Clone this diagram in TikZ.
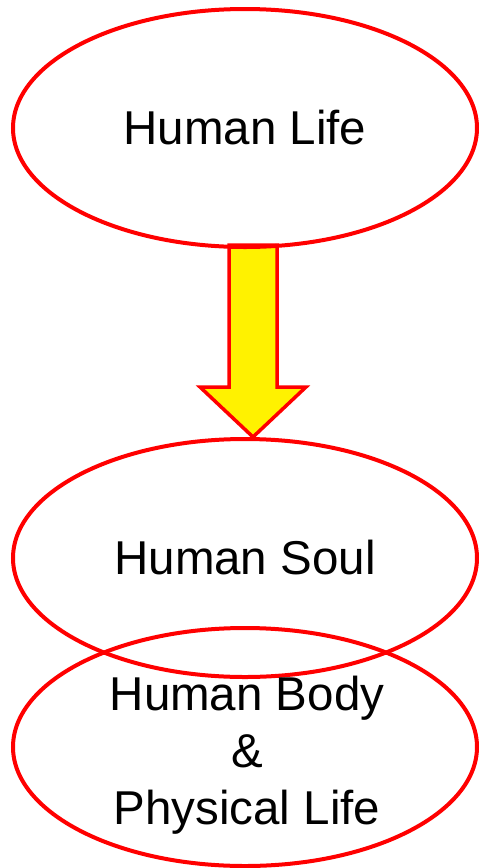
\documentclass[tikz,border=0pt]{standalone}
\usepackage{fontspec}
\setmainfont{Liberation Sans}
\usetikzlibrary{shapes.geometric, calc, backgrounds}

\begin{document}
\begin{tikzpicture}[
      x=1pt, y=-1pt,
      bubble/.style = {
        ellipse, draw=red, line width=4pt,
        minimum width=464pt, minimum height=238pt, inner sep=0pt,
        font=\fontsize{47.5}{58}\selectfont, text=black, align=center
      },
      words/.style = {
        inner sep=0pt, font=\fontsize{47.5}{57}\selectfont, text=black, align=center
      },
      blockarrow/.style = {
        draw=red, fill=yellow, line width=3.5pt, line join=miter
      }
    ]

    \useasboundingbox (0,0) rectangle (479,868);

    \node[bubble] (life) at (245,128) {Human Life};
    \node[bubble] (soul) at (245,558) {Human Soul};
    \node[bubble] (body) at (245,747) {};
    \node[words] (bodytext) at ($(body)+(2,8)$) {Human Body\\\&\\Physical Life};

    \coordinate (tip) at (253,437);
    \begin{scope}[on background layer]
      \draw[blockarrow]
        ($(tip |- life.south)+(-24,-4)$) -- ($(tip)+(-24,-50)$) -- ($(tip)+(-53,-50)$)
        -- (tip) -- ($(tip)+(53,-50)$) -- ($(tip)+(24,-50)$)
        -- ($(tip |- life.south)+(24,-4)$) -- cycle;
    \end{scope}

  \end{tikzpicture}
\end{document}
